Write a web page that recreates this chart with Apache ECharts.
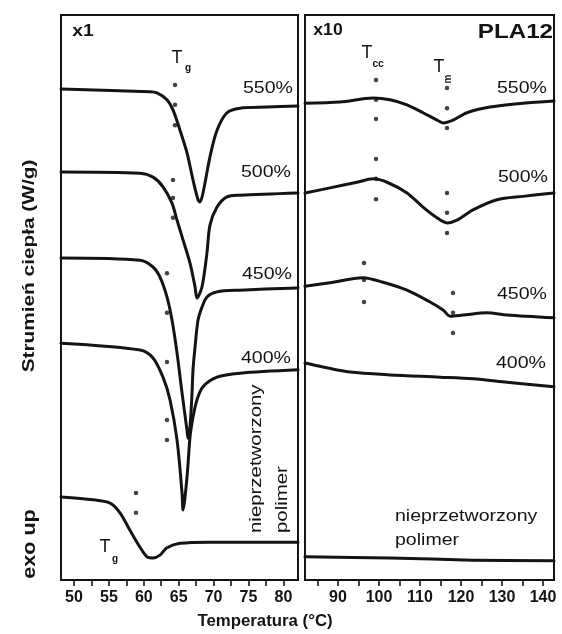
<!DOCTYPE html>
<html>
<head>
<meta charset="utf-8">
<script src="https://cdn.jsdelivr.net/npm/echarts@6/dist/echarts.min.js"></script>
<style>
  html, body { margin: 0; padding: 0; background: #ffffff; }
  #chart { width: 562px; height: 634px; }
</style>
</head>
<body>
<div id="chart"></div>
<script>
// ---- Glass-transition window (x1 scale), heat flow in offset units ----
const lowTemp550 = [48.14, 60.89, 61.89, 63.32, 64.18, 65.19, 66.19, 67.05, 67.77, 68.05, 68.48, 69.48, 70.49, 71.92, 73.78, 77.65, 82.09];
const lowFlow550 = [8.69, 8.64, 8.62, 8.50, 8.32, 7.96, 7.56, 7.08, 6.73, 6.69, 6.85, 7.49, 7.96, 8.27, 8.35, 8.37, 8.39];

const lowTemp500 = [48.14, 59.46, 61.32, 62.75, 64.04, 64.76, 65.62, 66.62, 67.34, 67.62, 68.34, 69.05, 69.48, 70.49, 71.92, 73.78, 82.09];
const lowFlow500 = [7.22, 7.20, 7.13, 6.96, 6.67, 6.37, 6.02, 5.61, 5.19, 4.99, 5.19, 5.79, 6.28, 6.60, 6.78, 6.81, 6.85];

const lowTemp450 = [48.14, 59.46, 61.32, 62.32, 63.32, 64.04, 64.76, 65.48, 66.19, 66.33, 66.62, 66.91, 67.05, 67.34, 67.77, 68.34, 69.05, 70.49, 73.78, 82.09];
const lowFlow450 = [5.70, 5.66, 5.54, 5.36, 5.01, 4.60, 4.02, 3.31, 2.65, 2.51, 2.71, 3.31, 3.72, 4.12, 4.60, 4.83, 5.01, 5.10, 5.13, 5.17];

const lowTemp400 = [48.14, 59.46, 61.32, 62.75, 63.75, 64.76, 65.48, 65.62, 66.19, 66.62, 67.05, 67.62, 68.48, 70.49, 73.78, 82.09];
const lowFlow400 = [4.19, 4.07, 3.93, 3.59, 3.19, 2.48, 1.54, 1.24, 1.82, 2.53, 2.88, 3.19, 3.42, 3.59, 3.66, 3.72];

const lowTempRaw = [48.14, 52.72, 55.16, 56.59, 58.02, 59.46, 60.46, 61.32, 62.32, 63.32, 65.19, 69.48, 82.09];
const lowFlowRaw = [1.47, 1.42, 1.36, 1.19, 0.88, 0.58, 0.41, 0.39, 0.44, 0.57, 0.65, 0.67, 0.67];

// Tg markers (three-point construction on each trace)
const tgTemp = [64.47, 64.47, 64.47, 64.18, 64.18, 64.18, 63.32, 63.32, 63.32, 63.32, 63.32, 58.88, 58.88];
const tgFlow = [8.76, 8.41, 8.05, 7.08, 6.76, 6.41, 5.43, 4.73, 3.86, 2.83, 2.48, 1.54, 1.19];

// ---- Crystallisation / melting window (x10 scale) ----
const highTemp550 = [81.95, 90.49, 98.54, 102.68, 106.83, 110.73, 114.15, 115.61, 118.05, 121.46, 127.07, 135.12, 142.68];
const highFlow550 = [8.44, 8.46, 8.53, 8.50, 8.41, 8.27, 8.14, 8.09, 8.14, 8.27, 8.37, 8.44, 8.48];

const highTemp500 = [81.95, 88.05, 94.63, 98.54, 101.95, 106.83, 110.73, 114.15, 116.59, 119.02, 122.93, 128.78, 135.12, 142.68];
const highFlow500 = [6.85, 6.94, 7.04, 7.10, 7.04, 6.85, 6.60, 6.41, 6.32, 6.37, 6.55, 6.73, 6.79, 6.85];

const highTemp450 = [81.95, 88.05, 96.10, 100.98, 106.83, 112.44, 115.61, 117.32, 120.49, 126.34, 131.22, 142.68];
const highFlow450 = [5.20, 5.26, 5.35, 5.27, 5.13, 4.92, 4.78, 4.67, 4.69, 4.73, 4.69, 4.64];

const highTemp400 = [81.95, 86.34, 92.93, 102.68, 114.88, 122.93, 131.22, 142.68];
const highFlow400 = [3.84, 3.77, 3.68, 3.63, 3.59, 3.56, 3.50, 3.42];

const highTempRaw = [81.95, 102.68, 122.93, 142.68];
const highFlowRaw = [0.41, 0.39, 0.35, 0.34];

// Tcc and Tm markers
const peakTemp = [99.27, 99.27, 99.27, 99.27, 99.27, 99.27, 96.34, 96.34, 96.34,
                  116.59, 116.59, 116.59, 116.59, 116.59, 116.59, 118.05, 118.05, 118.05];
const peakFlow = [8.85, 8.50, 8.16, 7.45, 7.10, 6.74, 5.61, 5.31, 4.92,
                  8.71, 8.35, 8.00, 6.85, 6.50, 6.14, 5.08, 4.73, 4.37];

// ---- Axis ticks ----
const lowMajorTicks = [50, 55, 60, 65, 70, 75, 80];
const lowMinorTicks = [50, 52.5, 55, 57.5, 60, 62.5, 65, 67.5, 70, 72.5, 75, 77.5, 80];
const highMajorTicks = [90, 100, 110, 120, 130, 140];
const highMinorTicks = [85, 90, 95, 100, 105, 110, 115, 120, 125, 130, 135, 140];

const FONT = "'Liberation Sans', Arial, Helvetica, sans-serif";
const INK = '#141414';

function pairs(xs, ys) { return xs.map((x, i) => [x, ys[i]]); }

function trace(xs, ys, side) {
  return {
    type: 'line',
    xAxisIndex: side, yAxisIndex: side,
    data: pairs(xs, ys),
    symbol: 'none',
    smooth: 0.3,
    lineStyle: { color: INK, width: 3, join: 'round', cap: 'round' },
    silent: true
  };
}

function markers(xs, ys, side) {
  return {
    type: 'scatter',
    xAxisIndex: side, yAxisIndex: side,
    data: pairs(xs, ys),
    symbol: 'circle',
    symbolSize: 4.5,
    itemStyle: { color: INK },
    silent: true
  };
}

function xAxisFor(side, min, max, minor, major) {
  return {
    type: 'value', gridIndex: side, min: min, max: max,
    axisLine: { show: true, lineStyle: { color: INK, width: 2 } },
    axisTick: { show: true, inside: false, length: 6, customValues: minor, lineStyle: { color: INK, width: 1.6 } },
    axisLabel: { show: true, customValues: major, margin: 10, color: INK,
                 fontFamily: FONT, fontWeight: 'bold', fontSize: 16 },
    splitLine: { show: false }
  };
}

function yAxisFor(side) {
  return { type: 'value', gridIndex: side, min: 0, max: 10, show: false };
}

// text helpers (annotations and axis titles)
function label(text, x, y, opts) {
  opts = opts || {};
  return {
    type: 'text', x: x, y: y,
    rotation: opts.rotation || 0,
    scaleX: opts.scaleX || 1,
    silent: true,
    style: {
      text: text,
      fill: INK,
      font: (opts.weight || 'normal') + ' ' + (opts.size || 16) + 'px ' + FONT,
      align: opts.align || 'center', textAlign: opts.align || 'center',
      verticalAlign: 'middle', textVerticalAlign: 'middle'
    }
  };
}

const chart = echarts.init(document.getElementById('chart'), null, { renderer: 'canvas' });

chart.setOption({
  animation: false,
  backgroundColor: '#ffffff',
  grid: [
    { left: 61, top: 15, width: 237, height: 565, show: true, borderColor: INK, borderWidth: 2, backgroundColor: 'transparent' },
    { left: 305, top: 15, width: 249, height: 565, show: true, borderColor: INK, borderWidth: 2, backgroundColor: 'transparent' }
  ],
  xAxis: [
    xAxisFor(0, 48.14, 82.09, lowMinorTicks, lowMajorTicks),
    xAxisFor(1, 81.95, 142.68, highMinorTicks, highMajorTicks)
  ],
  yAxis: [yAxisFor(0), yAxisFor(1)],
  series: [
    trace(lowTemp550, lowFlow550, 0),
    trace(lowTemp500, lowFlow500, 0),
    trace(lowTemp450, lowFlow450, 0),
    trace(lowTemp400, lowFlow400, 0),
    trace(lowTempRaw, lowFlowRaw, 0),
    markers(tgTemp, tgFlow, 0),
    trace(highTemp550, highFlow550, 1),
    trace(highTemp500, highFlow500, 1),
    trace(highTemp450, highFlow450, 1),
    trace(highTemp400, highFlow400, 1),
    trace(highTempRaw, highFlowRaw, 1),
    markers(peakTemp, peakFlow, 1)
  ],
  graphic: [
    // axis titles
    label('Temperatura (°C)', 265, 622, { weight: 'bold', size: 16, scaleX: 1.05 }),
    label('Strumień ciepła (W/g)', 30, 266, { weight: 'bold', size: 16, scaleX: 1.3, rotation: Math.PI / 2 }),
    label('exo up', 30, 544, { weight: 'bold', size: 18, scaleX: 1.2, rotation: Math.PI / 2 }),

    // left panel
    label('x1', 83, 32, { weight: 'bold', size: 16, scaleX: 1.2 }),
    label('T', 177, 58, { size: 18 }),
    label('g', 188, 68, { size: 10, weight: 'bold' }),
    label('550%', 293, 88, { size: 17, align: 'right', scaleX: 1.15 }),
    label('500%', 291, 172, { size: 17, align: 'right', scaleX: 1.15 }),
    label('450%', 292, 274, { size: 17, align: 'right', scaleX: 1.15 }),
    label('400%', 291, 358, { size: 17, align: 'right', scaleX: 1.15 }),
    label('nieprzetworzony', 256, 533, { size: 17, align: 'left', scaleX: 1.2, rotation: Math.PI / 2 }),
    label('polimer', 282, 533, { size: 17, align: 'left', scaleX: 1.2, rotation: Math.PI / 2 }),
    label('T', 105, 547, { size: 18 }),
    label('g', 115, 559, { size: 10, weight: 'bold' }),

    // right panel
    label('x10', 328, 31, { weight: 'bold', size: 16, scaleX: 1.1 }),
    label('PLA12', 553, 32, { weight: 'bold', size: 21, align: 'right', scaleX: 1.15 }),
    label('T', 367, 53, { size: 18 }),
    label('cc', 378, 64, { size: 10, weight: 'bold' }),
    label('T', 439, 67, { size: 18 }),
    label('m', 448, 79, { size: 10, weight: 'bold', rotation: Math.PI / 2 }),
    label('550%', 547, 88, { size: 17, align: 'right', scaleX: 1.15 }),
    label('500%', 548, 177, { size: 17, align: 'right', scaleX: 1.15 }),
    label('450%', 547, 294, { size: 17, align: 'right', scaleX: 1.15 }),
    label('400%', 546, 363, { size: 17, align: 'right', scaleX: 1.15 }),
    label('nieprzetworzony', 395, 516, { size: 17, align: 'left', scaleX: 1.15 }),
    label('polimer', 395, 540, { size: 17, align: 'left', scaleX: 1.15 })
  ]
});
</script>
</body>
</html>
